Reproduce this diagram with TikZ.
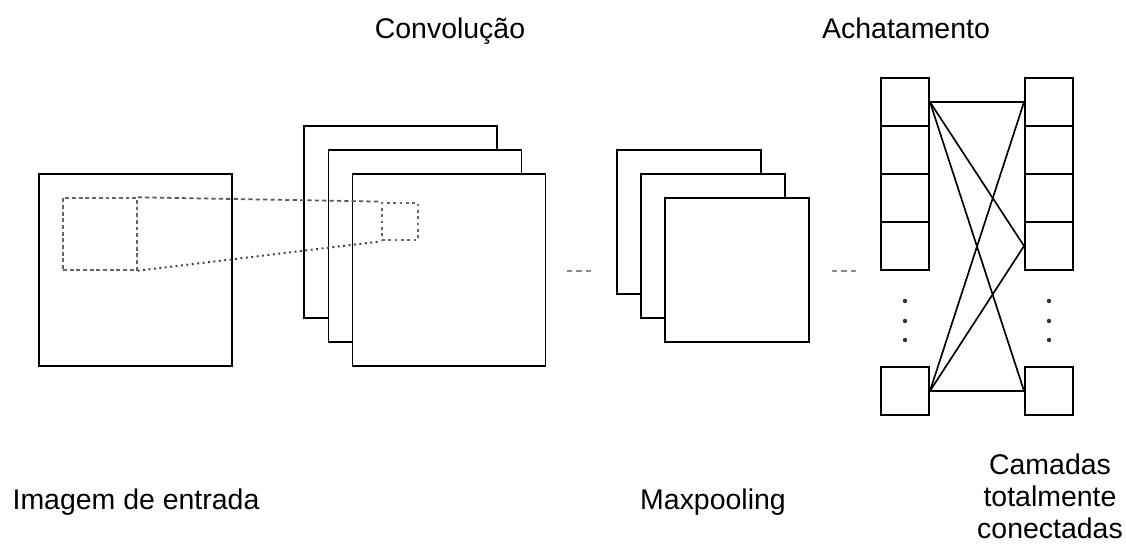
\documentclass[tikz,border=0pt]{standalone}
\usepackage{fontspec}
\setmainfont{Liberation Sans}
\usetikzlibrary{calc}

\tikzset{
  sq/.style={draw=black, fill=white, line width=1.1pt, inner sep=0pt},
  cell/.style={draw=black, fill=white, line width=1.1pt, inner sep=0pt, minimum width=0.96cm, minimum height=0.96cm},
  lbl/.style={font=\fontsize{16.2}{19}\selectfont, inner sep=0pt},
  win/.style={draw=black!60, line width=0.8pt, inner sep=0pt, dash pattern=on 2.2pt off 1.6pt},
  gap/.style={draw=black!45, line width=0.7pt, dash pattern=on 3pt off 2.4pt}
}

\begin{document}
\begin{tikzpicture}[x=0.02cm,y=-0.02cm]

\useasboundingbox (0,0) rectangle (1126,545);

\node[sq, minimum width=3.86cm, minimum height=3.84cm] (img) at (135.5,270) {};
\node[win, minimum width=1.48cm, minimum height=1.44cm] (janela) at (100,234) {};

\node[sq, minimum width=3.86cm, minimum height=3.84cm] (conv1) at (400.5,222) {};
\node[sq, minimum width=3.86cm, minimum height=3.84cm] (conv2) at (425,246) {};
\node[sq, minimum width=3.86cm, minimum height=3.84cm] (conv3) at (449,270) {};
\node[draw=black!60, line width=1.6pt, dotted, inner sep=0pt, minimum width=0.72cm, minimum height=0.74cm] (filtro) at (400,221.5) {};

\draw[black!65, line width=1pt, dash pattern=on 2.4pt off 1.8pt] (janela.north east)--(filtro.north west);
\draw[black!75, line width=1.1pt, dotted] (janela.south east)--(filtro.south west);

\node[sq, minimum width=2.88cm, minimum height=2.88cm] (pool1) at (689,222) {};
\node[sq, minimum width=2.88cm, minimum height=2.88cm] (pool2) at (713,246) {};
\node[sq, minimum width=2.88cm, minimum height=2.88cm] (pool3) at (737,270) {};

\coordinate (g1a) at (567,271);
\coordinate (g1b) at (594,271);
\coordinate (g2a) at (832,271);
\coordinate (g2b) at (859,271);
\draw[gap] (g1a)--(g1b);
\draw[gap] (g2a)--(g2b);

\foreach \i/\y in {1/102,2/150,3/198,4/246,5/391}{
  \node[cell] (e\i) at (905,\y) {};
  \node[cell] (d\i) at (1049,\y) {};
}

\foreach \y in {301,321,340}{
  \fill[black!80] (905,\y) circle (2.2);
  \fill[black!80] (1049,\y) circle (2.2);
}

\draw[black,line width=0.95pt] (e1.east)--(d1.west);
\draw[black,line width=0.95pt] (e1.east)--(d4.west);
\draw[black,line width=0.95pt] (e1.east)--(d5.west);
\draw[black,line width=0.95pt] (e5.east)--(d1.west);
\draw[black,line width=0.95pt] (e5.east)--(d4.west);
\draw[black,line width=0.95pt] (e5.east)--(d5.west);

\node[lbl, anchor=base] (tconv) at (450,38) {Convolução};
\node[lbl, anchor=base] (tachat) at (906,38) {Achatamento};
\node[lbl, anchor=base] (timg) at (136,509) {Imagem de entrada};
\node[lbl, anchor=base] (tpool) at (713,509) {Maxpooling};
\node[lbl, align=center, anchor=base, font=\fontsize{16.2}{18.1}\selectfont] (tfc) at (1050,538) {Camadas\\totalmente\\conectadas};

\end{tikzpicture}
\end{document}
